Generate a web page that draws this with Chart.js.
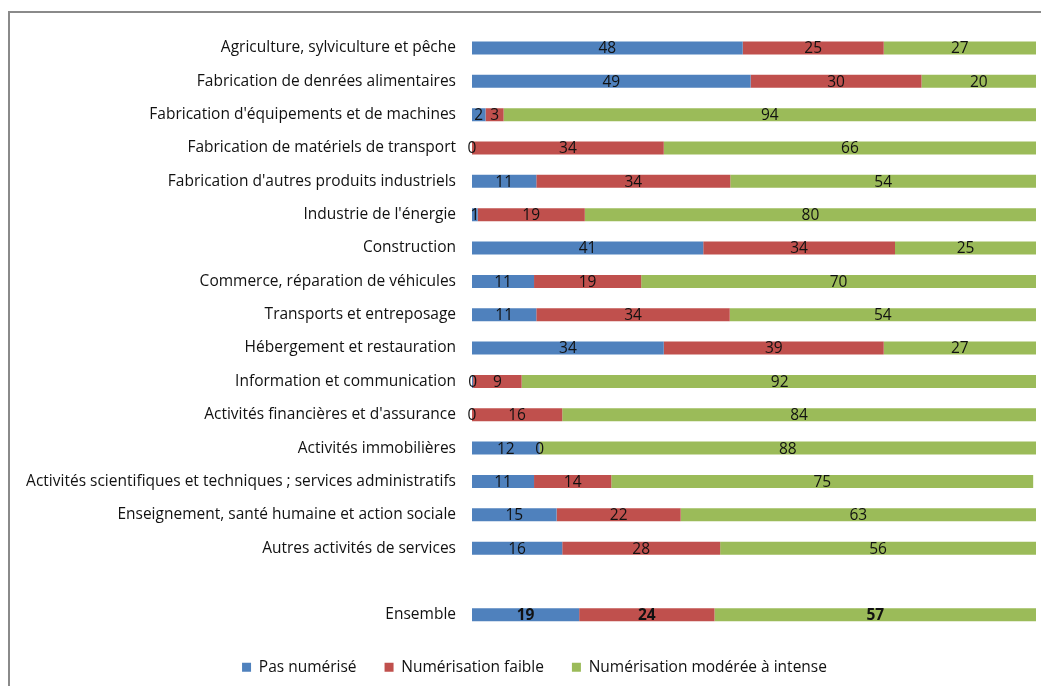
<!DOCTYPE html>
<html>
<head>
<meta charset="utf-8">
<script src="https://cdn.jsdelivr.net/npm/chart.js@4.4.1/dist/chart.umd.min.js"></script>
<style>
  html, body { margin: 0; padding: 0; overflow: hidden; background: #fff; }
  #frame { position: absolute; left: 8px; top: 11px; width: 1060px; height: 700px; border: 2px solid #8a8a8a; box-sizing: border-box; }
  #wrap { position: absolute; left: 9px; top: 6px; width: 1050px; height: 683px; }
</style>
</head>
<body>
<div id="frame"></div>
<div id="wrap"><canvas id="myChart"></canvas></div>
<script>
var categories = [
    'Agriculture, sylviculture et pêche',
    'Fabrication de denrées alimentaires',
    "Fabrication d'équipements et de machines",
    'Fabrication de matériels de transport',
    "Fabrication d'autres produits industriels",
    "Industrie de l'énergie",
    'Construction',
    'Commerce, réparation de véhicules',
    'Transports et entreposage',
    'Hébergement et restauration',
    'Information et communication',
    "Activités financières et d'assurance",
    'Activités immobilières',
    'Activités scientifiques et techniques ; services administratifs',
    'Enseignement, santé humaine et action sociale',
    'Autres activités de services',
    '',
    'Ensemble'
];
var seriesNames = ['Pas numérisé', 'Numérisation faible', 'Numérisation modérée à intense'];
var pasNumerise = [48, 49.4, 2.4, 0, 11.4, 1, 41, 11, 11.4, 34, 0.2, 0, 12, 11, 15, 16, null, 19];
var faible      = [25, 30.3, 3.2, 34, 34.4, 19, 34, 19, 34.3, 39, 8.6, 16, 0, 13.7, 22, 28, null, 24];
var moderee     = [27, 20.3, 94.4, 66, 54.2, 80, 25, 70, 54.3, 27, 91.5, 84, 88, 74.8, 63, 56, null, 57];
var colors = ['#4F81BD', '#C0504D', '#9BBB59'];

var fontFamily = "'Open Sans', Lato, sans-serif";
var fontSize = 15.5;
var ensembleIndex = categories.indexOf('Ensemble');

// write the rounded value in the middle of each bar segment
var valueLabels = {
    id: 'valueLabels',
    afterDatasetsDraw: function (chart) {
        var c = chart.ctx;
        c.save();
        c.textAlign = 'center';
        c.textBaseline = 'middle';
        c.fillStyle = '#111';
        chart.data.datasets.forEach(function (ds, di) {
            var meta = chart.getDatasetMeta(di);
            meta.data.forEach(function (bar, i) {
                var v = ds.data[i];
                if (v === null || v === undefined) return;
                c.font = (i === ensembleIndex ? 'bold ' : '') + fontSize + 'px ' + fontFamily;
                c.fillText(String(Math.round(v)), (bar.x + bar.base) / 2, bar.y + 1);
            });
        });
        c.restore();
    }
};

// legend is centred on the whole frame, not on the plot
var legendShift = {
    id: 'legendShift',
    afterLayout: function (chart) {
        chart.legend.left += 12;
        chart.legend.right += 12;
    }
};

var ctx = document.getElementById('myChart').getContext('2d');
var myChart = new Chart(ctx, {
    type: 'bar',
    data: {
        labels: categories,
        datasets: [
            { label: seriesNames[0], data: pasNumerise, backgroundColor: colors[0] },
            { label: seriesNames[1], data: faible, backgroundColor: colors[1] },
            { label: seriesNames[2], data: moderee, backgroundColor: colors[2] }
        ]
    },
    options: {
        indexAxis: 'y',
        responsive: true,
        maintainAspectRatio: false,
        animation: false,
        barPercentage: 0.39,
        categoryPercentage: 1,
        layout: { padding: { top: 12, right: 23, bottom: 4, left: 0 } },
        scales: {
            x: {
                stacked: true,
                display: false,
                min: 0,
                max: 100
            },
            y: {
                stacked: true,
                grid: { display: false, drawTicks: false },
                border: { display: false },
                ticks: { color: '#111', padding: 16, autoSkip: false, font: { family: fontFamily, size: fontSize } },
                afterFit: function (s) { s.width = 463; }
            }
        },
        plugins: {
            legend: {
                position: 'bottom',
                labels: {
                    boxWidth: 9,
                    boxHeight: 9,
                    padding: 28,
                    color: '#111',
                    font: { family: fontFamily, size: fontSize }
                }
            },
            tooltip: { enabled: false }
        }
    },
    plugins: [valueLabels, legendShift]
});
</script>
</body>
</html>
